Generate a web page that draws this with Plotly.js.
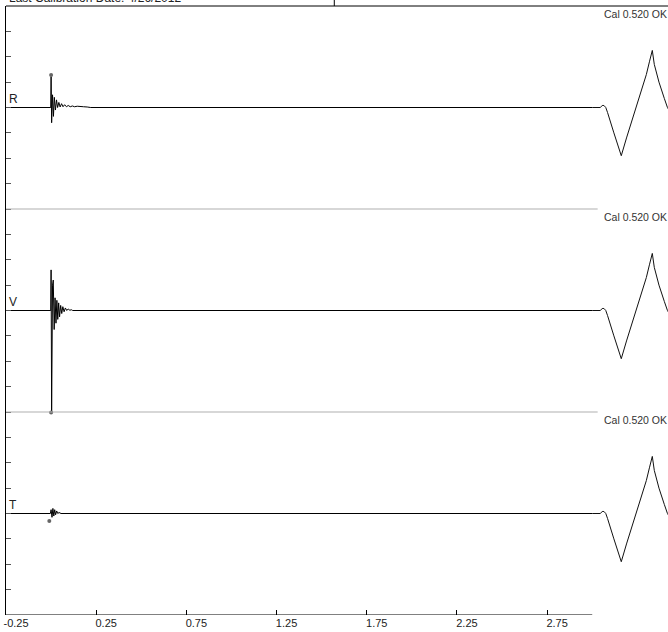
<!DOCTYPE html>
<html>
<head>
<meta charset="utf-8">
<script src="https://cdn.plot.ly/plotly-3.0.1.min.js"></script>
<style>html,body{margin:0;padding:0;background:#fff;}#chart{width:668px;height:632px;}</style>
</head>
<body>
<div id="chart"></div>
<script>
// ---- data (time in s, amplitude in channel units) ----
var channelNames = ["R", "V", "T"];
var calLabel = "Cal 0.520 OK";
var headerText = "Last Calibration Date: 4/26/2012";
var xTickVals = [-0.25, 0.25, 0.75, 1.25, 1.75, 2.25, 2.75];
var xTickText = ["-0.25", "0.25", "0.75", "1.25", "1.75", "2.25", "2.75"];

var tR = [-0.25, -0.002, 0, 0.003, 0.008, 0.013, 0.018, 0.024, 0.030, 0.036, 0.043, 0.050, 0.058, 0.066, 0.075, 0.085, 0.095, 0.106, 0.118, 0.13, 0.145, 0.16, 0.18, 0.2, 0.22, 3.0];
var R  = [0, 0, 1.22, -0.6, 0.5, -0.35, 0.4, -0.1, 0.3, 0.0, 0.2, 0.02, 0.15, 0.03, 0.11, 0.03, 0.08, 0.03, 0.06, 0.03, 0.05, 0.03, 0.03, 0.02, 0, 0];

var tV = [-0.25, -0.002, 0, 0.003, 0.008, 0.012, 0.017, 0.022, 0.027, 0.032, 0.037, 0.042, 0.047, 0.053, 0.059, 0.065, 0.072, 0.079, 0.087, 0.095, 0.104, 0.112, 0.12, 3.0];
var V  = [0, 0, 1.6, -4.0, 1.0, 1.2, -0.75, 0.5, -0.5, 0.4, -0.35, 0.3, -0.25, 0.2, -0.12, 0.15, -0.05, 0.1, 0.0, 0.06, 0.01, 0.03, 0, 0];

var tT = [-0.25, -0.004, 0, 0.005, 0.01, 0.015, 0.02, 0.025, 0.031, 0.037, 0.044, 0.055, 3.0];
var T  = [0, 0, 0.15, -0.15, 0.2, -0.1, 0.15, -0.05, 0.1, 0, 0.04, 0, 0];

var peakT = [0, 0, -0.01];
var peakV = [1.28, -4.02, -0.3];

var tCal = [3.0, 3.045, 3.055, 3.065, 3.075, 3.085, 3.12, 3.161, 3.19, 3.23, 3.27, 3.3, 3.317, 3.333, 3.344, 3.37, 3.4, 3.417, 3.43];
var cal  = [0, 0, 0.08, 0.08, 0, -0.2, -1.0, -1.9, -1.2, -0.3, 0.6, 1.3, 1.8, 2.25, 1.7, 1.0, 0.35, 0, -0.15];

// ---- layout of channels ----
var offsets = [20, 12, 4];
var separators = [16, 8];
var series = [[tR, R], [tV, V], [tT, T]];

var traces = [];
series.forEach(function (s, i) {
  traces.push({
    x: s[0], y: s[1].map(function (v) { return v + offsets[i]; }),
    mode: "lines", line: {color: "#000", width: 1}, hoverinfo: "skip", showlegend: false
  });
  traces.push({
    x: tCal, y: cal.map(function (v) { return v + offsets[i]; }),
    mode: "lines", line: {color: "#111", width: 1}, hoverinfo: "skip", showlegend: false
  });
});
traces.push({
  x: peakT, y: peakV.map(function (v, i) { return v + offsets[i]; }),
  mode: "markers", marker: {color: "#666", size: 4, symbol: "circle"}, hoverinfo: "skip", showlegend: false
});

var shapes = [];
separators.forEach(function (y) {
  shapes.push({type: "line", xref: "x", yref: "y", x0: -0.25, x1: 3.03, y0: y, y1: y,
    line: {color: "#b0b0b0", width: 1.2}});
});
// bottom axis line (ends at 3.0)
shapes.push({type: "line", xref: "x", yref: "y", x0: -0.25, x1: 3.0, y0: 0, y1: 0,
  line: {color: "#000", width: 1}});
// top border
shapes.push({type: "line", xref: "paper", yref: "paper", x0: 0, x1: 1, y0: 1, y1: 1,
  line: {color: "#000", width: 1}});
// header box right border
shapes.push({type: "line", xref: "x", yref: "paper", x0: 1.57, x1: 1.57, y0: 1, y1: 1.02,
  line: {color: "#000", width: 1}});

var annotations = [];
channelNames.forEach(function (n, i) {
  annotations.push({text: n, xref: "paper", yref: "y", x: 0, y: offsets[i] + 0.32,
    xanchor: "left", yanchor: "middle", xshift: 1, showarrow: false,
    font: {family: "Liberation Sans, Arial, sans-serif", size: 12, color: "#222"}});
  annotations.push({text: calLabel, xref: "paper", yref: "y", x: 1, y: offsets[i] + 3.7,
    xanchor: "right", yanchor: "middle", xshift: 1, showarrow: false,
    font: {family: "Liberation Sans, Arial, sans-serif", size: 10.5, color: "#333"}});
});
annotations.push({text: headerText, xref: "paper", yref: "paper", x: 0, y: 1.0135,
  xanchor: "left", yanchor: "middle", xshift: 1, showarrow: false,
  font: {family: "Liberation Sans, Arial, sans-serif", size: 12, color: "#222"}});

var layout = {
  width: 668, height: 632,
  margin: {l: 6, r: 0, t: 6, b: 17, pad: 0},
  paper_bgcolor: "#fff", plot_bgcolor: "#fff",
  showlegend: false,
  xaxis: {
    range: [-0.25, 3.42], showgrid: false, zeroline: false, showline: false,
    tickmode: "array", tickvals: xTickVals, ticktext: xTickText,
    ticks: "inside", ticklen: 5, tickwidth: 1, tickcolor: "#000",
    ticklabelshift: 10, ticklabelstandoff: 0,
    tickfont: {family: "Liberation Sans, Arial, sans-serif", size: 11, color: "#222"},
    fixedrange: true
  },
  yaxis: {
    range: [0, 24], showgrid: false, zeroline: false,
    showline: true, linecolor: "#000", linewidth: 1,
    tickmode: "linear", tick0: 0, dtick: 1,
    ticks: "inside", ticklen: 5, tickwidth: 1, tickcolor: "#555",
    showticklabels: false, fixedrange: true
  },
  shapes: shapes,
  annotations: annotations
};

Plotly.newPlot("chart", traces, layout, {staticPlot: true, displayModeBar: false});
</script>
</body>
</html>
